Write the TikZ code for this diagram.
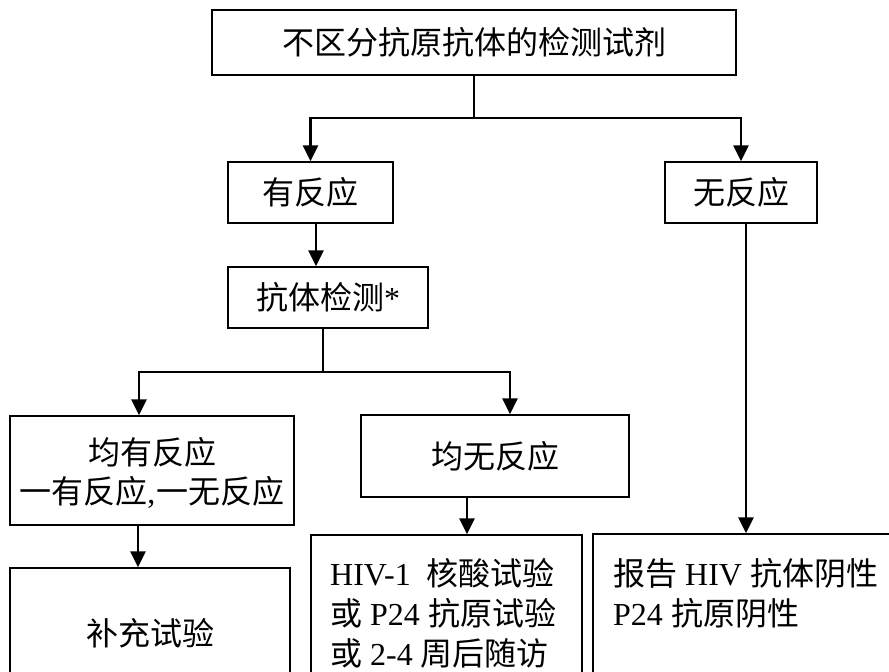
\documentclass[tikz,border=0pt]{standalone}
\usepackage{fontspec}
\setmainfont{Liberation Serif}
\newfontfamily\cjk{Noto Sans CJK SC}
\usetikzlibrary{arrows.meta}
\newcommand\zh[1]{{\cjk #1}}
\begin{document}
\begin{tikzpicture}[x=1pt,y=-1pt,
  box/.style={draw, line width=1.4pt, inner sep=0pt, font=\fontsize{32}{40}\selectfont},
  txt/.style={inner sep=0pt, font=\fontsize{32}{40}\selectfont},
  conn/.style={line width=2.6pt},
  arr/.style={line width=2.6pt, -{Triangle[width=15pt,length=16pt]}}]
\useasboundingbox (0,0) rectangle (889,672);
\clip (0,0) rectangle (889,672);
% boxes
\node[box, minimum width=524pt, minimum height=65pt] (top) at (474,42.5) {\zh{不区分抗原抗体的检测试剂}};
\node[box, minimum width=165pt, minimum height=61pt] (yes) at (310.5,192.5) {\zh{有反应}};
\node[box, minimum width=152pt, minimum height=61pt] (no) at (741,192.5) {\zh{无反应}};
\node[box, minimum width=200pt, minimum height=61pt] (ab) at (328,297.5) {\zh{抗体检测}*};
\node[box, minimum width=284pt, minimum height=109pt] (both) at (152,470.5) {};
\node[box, minimum width=268pt, minimum height=82pt] (none) at (495,456) {\zh{均无反应}};
\node[box, minimum width=280pt, minimum height=140pt] (supp) at (150,638) {};
\node[box, minimum width=271pt, minimum height=170pt] (nat) at (446.5,620) {};
\node[box, minimum width=300pt, minimum height=170pt] (neg) at (743,619) {};
% texts
\node[txt] (t1) at (152,452) {\zh{均有反应}};
\node[txt] (t2) at (152,492) {\zh{一有反应},\hspace{1pt}\zh{一无反应}};
\node[txt] (t3) at (150,633) {\zh{补充试验}};
\node[txt, anchor=base west] (t4) at (330,585) {HIV-1\ \ \zh{核酸试验}};
\node[txt, anchor=base west] (t5) at (330,625) {\zh{或} P24 \zh{抗原试验}};
\node[txt, anchor=base west] (t6) at (330,665) {\zh{或} 2-4 \zh{周后随访}};
\node[txt, anchor=base west] (t7) at (613,585) {\zh{报告} HIV \zh{抗体阴性}};
\node[txt, anchor=base west] (t8) at (613,625) {P24 \zh{抗原阴性}};
% connectors
\coordinate (j1) at (474,118);
\coordinate (j2) at (323,372);
\draw[conn] (top.south) -- (j1);
\draw[arr] (j1) -| (yes.north);
\draw[arr] (j1) -| (no.north);
\draw[arr] ([xshift=5.5pt]yes.south) -- ([xshift=5.5pt]yes.south |- ab.north);
\draw[conn] ([xshift=-5pt]ab.south) -- (j2);
\draw[arr] (j2) -| ([xshift=-13pt]both.north);
\draw[arr] (j2) -| ([xshift=15pt]none.north);
\draw[arr] ([xshift=-28pt]none.south) -- ([xshift=-28pt]none.south |- nat.north);
\draw[arr] ([xshift=-14pt]both.south) -- ([xshift=-14pt]both.south |- supp.north);
\draw[arr] ([xshift=5pt]no.south) -- ([xshift=5pt]no.south |- neg.north);
\end{tikzpicture}
\end{document}
